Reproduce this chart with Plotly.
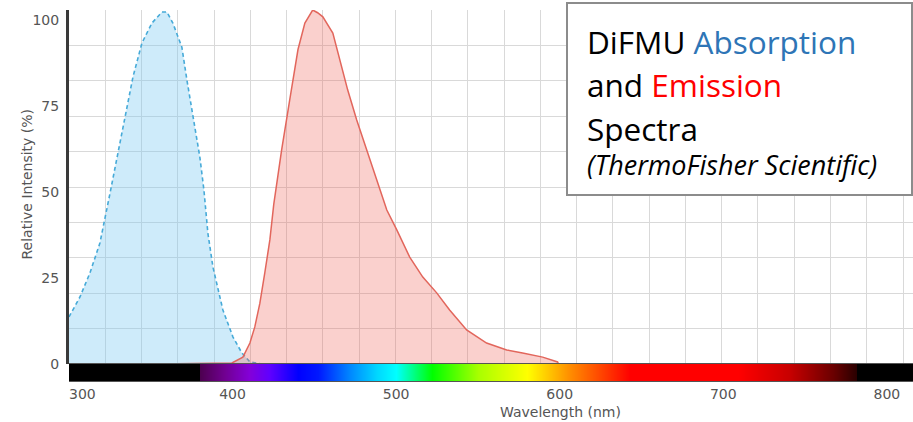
import plotly.graph_objects as go

# ---------------- data ----------------
ABS_NM = [300, 306.7, 312.8, 318.9, 325, 329.3, 334.2, 339.1, 344.6, 350.7, 356.8,
          359.9, 363.5, 369, 372.1, 375.7, 380, 382.5, 384.9, 388, 394.1, 400.2,
          405.7, 410.6, 418, 427]
ABS_VAL = [13.7, 19.5, 26.5, 35.2, 49.5, 60.2, 71.9, 83.5, 93.4, 99.2, 102.4,
           102.4, 99.2, 92.2, 82.6, 71.9, 60.2, 50.6, 38.1, 28.2, 15.7, 7.9,
           3.2, 0.6, 0, 0]

EM_NM = [354, 399.6, 406.3, 410.6, 413.6, 416.7, 419.7, 422.8, 425.2, 430, 435,
         440, 444.2, 449, 452, 455.2, 461.3, 465.5, 470.4, 475.9, 482, 486.9,
         494.3, 500.4, 508.3, 516.3, 524.8, 532.7, 543.1, 555.3, 567.6, 577.3,
         589.6, 598.7, 599.3]
EM_VAL = [0, 0.3, 2.0, 6.1, 10.8, 17.7, 26.5, 36.1, 46.5, 62.3, 77.0,
          91.5, 99.2, 103.0, 102.2, 101.0, 96.3, 88.4, 79.7, 71.0, 62.3, 55.6,
          44.8, 39.0, 31.1, 25.3, 20.7, 15.7, 9.9, 6.1, 4.1, 3.2,
          2.0, 0.6, 0]

X_TICKS = [300, 400, 500, 600, 700, 800]
X_TICK_TEXT = ["\u00a0" * 6 + "300", "400", "500", "600", "700", "800"]
Y_TICKS = [0, 25, 50, 75, 100]
Y_TICK_TEXT = ["0", "25", "50", "75", "100"]

# visible-spectrum colour bar (wavelength -> colour)
SPEC_NM = [300, 379.9, 380, 395, 410, 422, 440, 452, 472, 488, 500, 522, 550,
           580, 606, 643, 709, 740, 767, 781, 782, 816]
SPEC_COLORS = ["#000000", "#000000", "#4d0050", "#700090", "#8400d8", "#6000ff",
               "#0000ff", "#0018ff", "#0088ff", "#00d8ff", "#00ffff", "#00ff00",
               "#a8ff00", "#ffff00", "#ff8c00", "#ff0000", "#ff0000", "#c80000",
               "#6a0000", "#2a0000", "#000000", "#000000"]

# ---------------- geometry ----------------
W, H = 913, 422
L, R, T, B = 69, 0, 10, 41
PLOT_W = W - L - R
PLOT_H = H - T - B
BAR_TOP_PX = 364
X_MIN, X_MAX = 300, 816
Y_MIN, Y_MAX = 0, 103


def px2x(px):
    return (px - L) / PLOT_W


def py2y(py):
    return (H - B - py) / PLOT_H


main_bottom = py2y(BAR_TOP_PX)

TICK_FONT = dict(family="DejaVu Sans", size=14, color="#555555")
GRID = "#d9d9d9"

fig = go.Figure()

fig.add_trace(go.Scatter(
    x=ABS_NM, y=ABS_VAL, mode="lines", name="Absorption",
    line=dict(color="#46aad8", width=1.6, dash="4px,3px"),
    fill="tozeroy", fillcolor="rgba(120,200,240,0.36)",
    xaxis="x", yaxis="y", hoverinfo="skip"))

fig.add_trace(go.Scatter(
    x=EM_NM, y=EM_VAL, mode="lines", name="Emission",
    line=dict(color="#e2665c", width=1.5),
    fill="tozeroy", fillcolor="rgba(240,100,90,0.30)",
    xaxis="x", yaxis="y", hoverinfo="skip"))

span = X_MAX - X_MIN
colorscale = [[(w - X_MIN) / span, c] for w, c in zip(SPEC_NM, SPEC_COLORS)]
fig.add_trace(go.Heatmap(
    x=SPEC_NM, y=[0, 1], z=[SPEC_NM, SPEC_NM],
    colorscale=colorscale, zmin=X_MIN, zmax=X_MAX, zsmooth="best",
    showscale=False, xaxis="x", yaxis="y2", hoverinfo="skip"))

fig.update_layout(
    width=W, height=H,
    margin=dict(l=L, r=R, t=T, b=B, pad=0),
    paper_bgcolor="white", plot_bgcolor="white",
    showlegend=False, hovermode=False,
    xaxis=dict(
        domain=[0, 1], range=[X_MIN, X_MAX], anchor="y2",
        tickmode="array", tickvals=X_TICKS, ticktext=X_TICK_TEXT,
        ticks="", showgrid=False, zeroline=False,
        minor=dict(tick0=300, dtick=22.17, showgrid=True, gridcolor=GRID,
                   gridwidth=1.2, ticks=""),
        showline=True, linecolor="#555555", linewidth=1, mirror=True,
        tickfont=TICK_FONT,
    ),
    yaxis=dict(
        domain=[main_bottom, 1], range=[Y_MIN, Y_MAX], anchor="x",
        tickmode="array", tickvals=Y_TICKS, ticktext=Y_TICK_TEXT,
        ticks="", showgrid=False, zeroline=False,
        minor=dict(tick0=0, dtick=10.3, showgrid=True, gridcolor=GRID,
                   gridwidth=1.2, ticks=""),
        showline=True, linecolor="#3a3a3a", linewidth=3,
        tickfont=TICK_FONT, ticklabelstandoff=4,
    ),
    yaxis2=dict(domain=[0, main_bottom], range=[0, 1], anchor="x",
                visible=False),
)

# info box
fig.add_shape(type="rect", xref="paper", yref="paper",
              x0=px2x(567), x1=px2x(912), y0=py2y(195), y1=py2y(3),
              line=dict(color="#8c8c8c", width=2), fillcolor="white",
              layer="above")

BOX_FONT = "Open Sans"
lines = [
    ('DiFMU <span style="color:#2e75b6">Absorption</span>', 42, 31.5),
    ('and <span style="color:#ff0000">Emission</span>', 85, 31.5),
    ('Spectra', 128.5, 31.5),
    ('<i>(ThermoFisher Scientific)</i>', 164, 27),
]
for txt, ypx, size in lines:
    fig.add_annotation(text=txt, xref="paper", yref="paper",
                       x=px2x(585), y=py2y(ypx), xanchor="left",
                       yanchor="middle", showarrow=False,
                       font=dict(family=BOX_FONT, size=size, color="#000000"))

# axis titles
fig.add_annotation(text="Wavelength (nm)", xref="paper", yref="paper",
                   x=px2x(560), y=py2y(412), xanchor="center",
                   yanchor="middle", showarrow=False,
                   font=dict(family="DejaVu Sans", size=14, color="#555555"))
fig.add_annotation(text="Relative Intensity (%)", xref="paper", yref="paper",
                   x=px2x(26), y=py2y(184.5), xanchor="center",
                   yanchor="middle", textangle=-90, showarrow=False,
                   font=dict(family="DejaVu Sans", size=14, color="#555555"))

fig.write_html("out.html")
